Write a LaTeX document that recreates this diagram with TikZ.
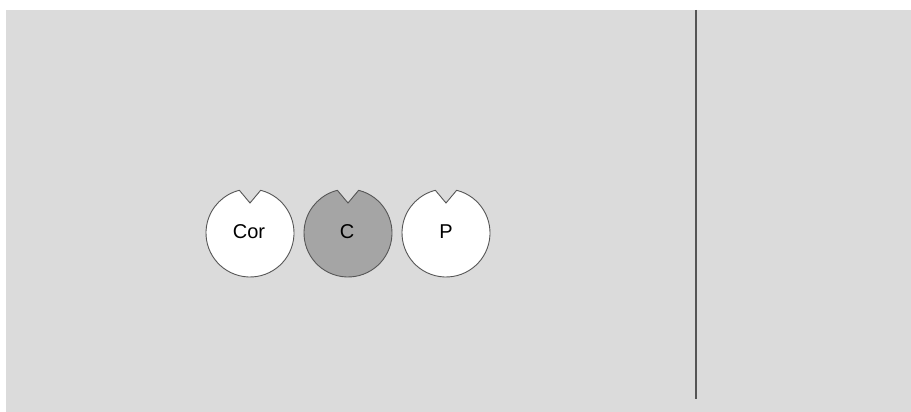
\documentclass[tikz,border=0pt]{standalone}
\usepackage{fontspec}
\setmainfont{Liberation Sans}
\usetikzlibrary{calc}
\definecolor{bg}{RGB}{219,219,219}
\definecolor{cfill}{RGB}{165,165,165}
\definecolor{edge}{RGB}{85,85,85}
\begin{document}
\begin{tikzpicture}[x=1pt,y=1pt,
  notched/.style={draw=edge, line width=0.9pt},
  lbl/.style={font=\fontsize{20}{22}\selectfont, inner sep=0pt},
  rule/.style={draw=edge, line width=1.3pt}]
\useasboundingbox (0,0) rectangle (911,412);
\fill[white] (0,0) rectangle (911,412);
\fill[bg] (6,0) rectangle (911,402);
\foreach \cx/\col in {250/white,348/cfill,446/white}{
  \filldraw[notched, fill=\col] ($(\cx,179)+(104:44)$) -- (\cx,209) -- ($(\cx,179)+(76:44)$)
    arc[start angle=76, end angle=-256, radius=44] -- cycle;
}
\node[lbl] (cor) at (249,180) {Cor};
\node[lbl] (c) at (347,180) {C};
\node[lbl] (p) at (446,180) {P};
\coordinate (ltop) at (696,402);
\coordinate (lbot) at (696,13);
\draw[rule] (ltop) -- (lbot);
\end{tikzpicture}
\end{document}
